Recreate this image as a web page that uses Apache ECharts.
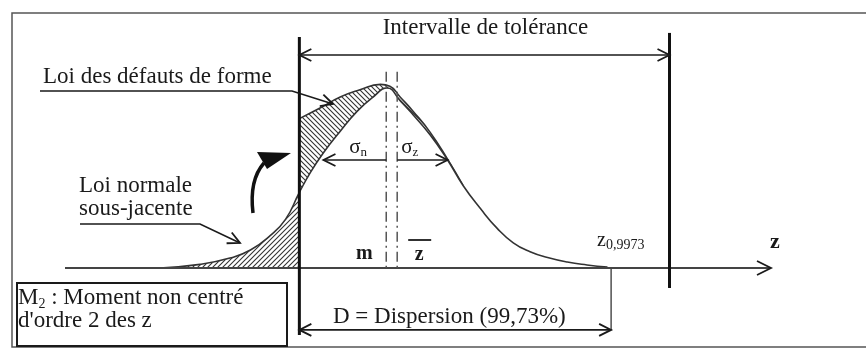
<!DOCTYPE html>
<html>
<head>
<meta charset="utf-8">
<script src="https://cdn.jsdelivr.net/npm/echarts@6/dist/echarts.min.js"></script>
<style>
    html, body { margin: 0; padding: 0; background: #fff; }
    #chart { width: 866px; height: 349px; }
</style>
</head>
<body>
<div id="chart"></div>
<script>
const normaleZ = [-3.1, -2.55, -2.14, -1.86, -1.59, -1.38, -1.19, -1.04, -0.86, -0.63, -0.4, -0.18, 0.01,
                  0.19, 0.37, 0.6, 0.84, 1.05, 1.29, 1.52, 1.74, 1.97, 2.21, 2.48, 2.75, 3.03];
const normaleD = [0.0, 0.02, 0.055, 0.1, 0.18, 0.27, 0.42, 0.53, 0.64, 0.76, 0.87, 0.95, 1.0,
                  0.93, 0.85, 0.74, 0.6, 0.46, 0.33, 0.22, 0.14, 0.09, 0.058, 0.033, 0.017, 0.005];
const defautsZ = [-1.19, -0.9, -0.63, -0.36, -0.08, 0.05, 0.19, 0.37, 0.6, 0.84, 1.05];
const defautsD = [0.83, 0.89, 0.95, 0.99, 1.02, 1.01, 0.95, 0.87, 0.755, 0.605, 0.46];
const tolerance = [-1.19, 3.88];      // limites de l'intervalle de tolérance
const moyennes = [0, 0.15];           // m, z barre
const z9973 = 3.08;                   // fin de la dispersion
const sigmaN = [-0.86, 0];
const sigmaZ = [0.15, 0.84];

const encre = '#1a1a1a';
const serif = '"Liberation Serif", "DejaVu Serif", serif';

function hachure(sens) {
    let c = document.createElement('canvas');
    c.width = 5; c.height = 5;
    let g = c.getContext('2d');
    g.strokeStyle = '#333';
    g.lineWidth = 1.1;
    g.beginPath();
    if (sens > 0) {
        g.moveTo(-1, 6); g.lineTo(6, -1);
        g.moveTo(-1, 1); g.lineTo(1, -1);
        g.moveTo(4, 6); g.lineTo(6, 4);
    } else {
        g.moveTo(-1, -1); g.lineTo(6, 6);
        g.moveTo(4, -1); g.lineTo(6, 1);
        g.moveTo(-1, 4); g.lineTo(1, 6);
    }
    g.stroke();
    return c;
}

let normale = normaleZ.map((z, i) => [z, normaleD[i]]);
let normaleGauche = normale.filter(p => p[0] <= tolerance[0] + 0.001);
let defauts = defautsZ.map((z, i) => [z, defautsD[i]]);

let chart = echarts.init(document.getElementById('chart'));
chart.setOption({
    animation: false,
    grid: { left: 65, right: 95, top: 16, bottom: 0 },
    xAxis: { type: 'value', min: -4.4, max: 5.27, show: false },
    yAxis: { type: 'value', min: -0.45, max: 1.4, show: false },
    series: [
        {
            type: 'line', data: defauts, smooth: 0.5, symbol: 'none', z: 2,
            lineStyle: { color: '#333', width: 1.6 },
            areaStyle: { color: { image: hachure(-1), repeat: 'repeat' }, opacity: 1 }
        },
        {
            type: 'line', data: normale, smooth: 0.5, symbol: 'none', z: 3,
            lineStyle: { color: '#333', width: 1.6 },
            areaStyle: { color: '#fff', opacity: 1 }
        },
        {
            type: 'line', data: normaleGauche, smooth: 0.5, symbol: 'none', z: 4,
            lineStyle: { width: 0 },
            areaStyle: { color: { image: hachure(1), repeat: 'repeat' }, opacity: 1 }
        }
    ]
});

const P = (z, d) => chart.convertToPixel({ gridIndex: 0 }, [z, d]);

function ligne(a, b, w, couleur, dash) {
    return {
        type: 'line', z: 50,
        shape: { x1: a[0], y1: a[1], x2: b[0], y2: b[1] },
        style: { stroke: couleur || encre, lineWidth: w || 1.6, lineDash: dash || null }
    };
}
function chevron(pointe, depuis, len, w) {
    len = len || 12; w = w || 6;
    let dx = pointe[0] - depuis[0], dy = pointe[1] - depuis[1];
    let L = Math.hypot(dx, dy), ux = dx / L, uy = dy / L;
    let bx = pointe[0] - ux * len, by = pointe[1] - uy * len;
    return {
        type: 'polyline', z: 50,
        shape: { points: [[bx - uy * w, by + ux * w], pointe, [bx + uy * w, by - ux * w]] },
        style: { stroke: encre, lineWidth: 1.8, fill: null }
    };
}
function fleche(a, b, deuxBouts) {
    let els = [ligne(a, b), chevron(b, a)];
    if (deuxBouts) els.push(chevron(a, b));
    return els;
}
function texte(t, x, y, taille, opts) {
    return {
        type: 'text', z: 60, x: x, y: y,
        style: Object.assign({
            text: t, fill: encre, fontSize: taille || 23, fontFamily: serif,
            align: 'left', verticalAlign: 'middle'
        }, opts || {})
    };
}
function indice(base, sub, suite, tb, ts, x, y) {
    return texte('{t|' + base + '}{s|' + sub + '}' + (suite ? '{t|' + suite + '}' : ''), x, y, tb, {
        rich: {
            t: { fontSize: tb, fontFamily: serif, fill: encre, lineHeight: tb + 3 },
            s: { fontSize: ts, fontFamily: serif, fill: encre, lineHeight: tb + 3,
                 verticalAlign: 'bottom', padding: [Math.round(tb * 0.4), 0, 0, 0] }
        }
    });
}

let tolG = P(tolerance[0], 0)[0], tolD = P(tolerance[1], 0)[0];
let els = [];

// cadre et encadré M2
els.push({ type: 'rect', z: 40, shape: { x: 12, y: 13, width: 880, height: 334 },
           style: { stroke: '#555', lineWidth: 1.5, fill: null } });
els.push({ type: 'rect', z: 45, shape: { x: 17, y: 283, width: 270, height: 63 },
           style: { stroke: encre, lineWidth: 2, fill: '#fff' } });

// axe z
els.push(ligne(P(-4.4, 0), P(5.27, 0), 2, '#444'));
els.push(chevron(P(5.27, 0), P(4, 0), 14, 7));

// limites de tolérance
els.push(ligne(P(tolerance[0], 1.283), P(tolerance[0], -0.372), 3, '#111'));
els.push(ligne(P(tolerance[1], 1.306), P(tolerance[1], -0.111), 3, '#111'));
els = els.concat(fleche(P(tolerance[0], 1.183), P(tolerance[1], 1.183), true));

// m et z barre
els.push(ligne(P(moyennes[0], 1.09), P(moyennes[0], -0.02), 1.5, '#555', [10, 4, 2, 4]));
els.push(ligne(P(moyennes[1], 1.09), P(moyennes[1], 0), 1.5, '#555', [10, 4, 2, 4]));

// écarts-types
els = els.concat(fleche(P(sigmaN[1], 0.6), P(sigmaN[0], 0.6)));
els = els.concat(fleche(P(sigmaZ[0], 0.6), P(sigmaZ[1], 0.6)));

// dispersion
els.push(ligne(P(z9973, 0), P(z9973, -0.344), 1.4, '#444'));
els = els.concat(fleche(P(tolerance[0], -0.344), P(z9973, -0.344), true));

// renvois des légendes
els.push({ type: 'polyline', z: 50, shape: { points: [[40, 91], [292, 91], [333, 104]] },
           style: { stroke: encre, lineWidth: 1.6, fill: null } });
els.push(chevron([333, 104], [292, 91]));
els.push({ type: 'polyline', z: 50, shape: { points: [[80, 224], [200, 224], [240, 243]] },
           style: { stroke: encre, lineWidth: 1.6, fill: null } });
els.push(chevron([240, 243], [200, 224]));

// flèche courbe
els.push({ type: 'bezierCurve', z: 50,
           shape: { x1: 253, y1: 213, cpx1: 249, cpy1: 180, x2: 264, y2: 163 },
           style: { stroke: '#111', lineWidth: 3.5, fill: null } });
els.push({ type: 'polygon', z: 50, shape: { points: [[257, 152], [291, 153], [267, 169]] },
           style: { fill: '#111' } });

// textes
let xm = P(moyennes[0], 0)[0], xz = P(moyennes[1], 0)[0];
els.push(texte('Intervalle de tolérance', (tolG + tolD) / 2 + 1, 28, 23, { align: 'center' }));
els.push(texte('Loi des défauts de forme', 43, 77));
els.push(texte('Loi normale', 79, 186));
els.push(texte('sous-jacente', 79, 209));
els.push(indice('M', '2', ' : Moment non centré', 23, 14, 18, 298));
els.push(texte("d'ordre 2 des z", 18, 321));
els.push(texte('D = Dispersion (99,73%)', 333, 317));
els.push(texte('m', xm - 22, 254, 20, { align: 'center', fontWeight: 'bold' }));
els.push(texte('z', xz + 22, 255, 20, { align: 'center', fontWeight: 'bold' }));
els.push(ligne([xz + 11, 240], [xz + 34, 240], 1.8));
els.push(indice('σ', 'n', '', 21, 13, xm - 37, 147));
els.push(indice('σ', 'z', '', 21, 13, xz + 4, 147));
els.push(indice('z', '0,9973', '', 20, 14, 597, 241));
els.push(texte('z', 775, 242, 22, { align: 'center', fontWeight: 'bold' }));

chart.setOption({ graphic: { elements: els } });
</script>
</body>
</html>
